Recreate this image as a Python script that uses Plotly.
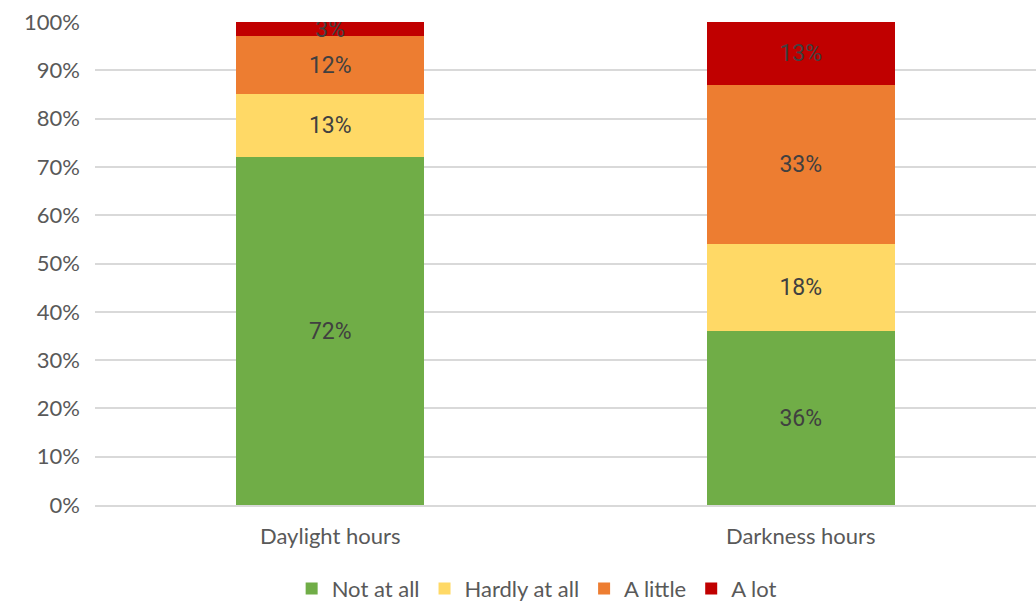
import plotly.graph_objects as go

categories = ["Daylight hours", "Darkness hours"]
series_names = ["Not at all", "Hardly at all", "A little", "A lot"]
not_at_all = [72, 36]
hardly_at_all = [13, 18]
a_little = [12, 33]
a_lot = [3, 13]
colors = ["#70AD47", "#FFD966", "#ED7D31", "#C00000"]

values = [not_at_all, hardly_at_all, a_little, a_lot]

fig = go.Figure()
for name, vals, col in zip(series_names, values, colors):
    fig.add_trace(go.Bar(
        x=categories, y=vals, name=name,
        marker=dict(color=col, line=dict(width=0)),
        text=[f"{v}%" for v in vals],
        textposition="inside", insidetextanchor="middle",
        constraintext="none",
        textfont=dict(family="Roboto", size=23, color="#404040"),
        hoverinfo="skip",
    ))

fig.update_layout(
    barmode="stack",
    bargap=0.6,
    width=1036, height=605,
    margin=dict(l=95, r=0, t=22, b=100, autoexpand=False),
    plot_bgcolor="white", paper_bgcolor="white",
    font=dict(family="Lato", size=22, color="#595959"),
    yaxis=dict(
        range=[0, 100], tickvals=list(range(0, 101, 10)),
        ticktext=[f"{v}%" for v in range(0, 101, 10)],
        showgrid=True, gridcolor="#D9D9D9", gridwidth=2,
        zeroline=False, ticks="", ticklabelstandoff=14,
        tickfont=dict(size=22, color="#595959"),
        automargin=False,
    ),
    xaxis=dict(
        showline=True, linecolor="#D9D9D9", linewidth=2,
        tickfont=dict(size=22, color="#595959"),
        ticks="", ticklabelstandoff=11,
        automargin=False,
    ),
    legend=dict(
        orientation="h", xref="container", x=0.518, xanchor="center",
        yref="container", y=0.027, yanchor="middle",
        font=dict(size=22, color="#595959"), traceorder="normal",
        itemwidth=30,
    ),
    showlegend=True,
)

fig.write_html("out.html")
